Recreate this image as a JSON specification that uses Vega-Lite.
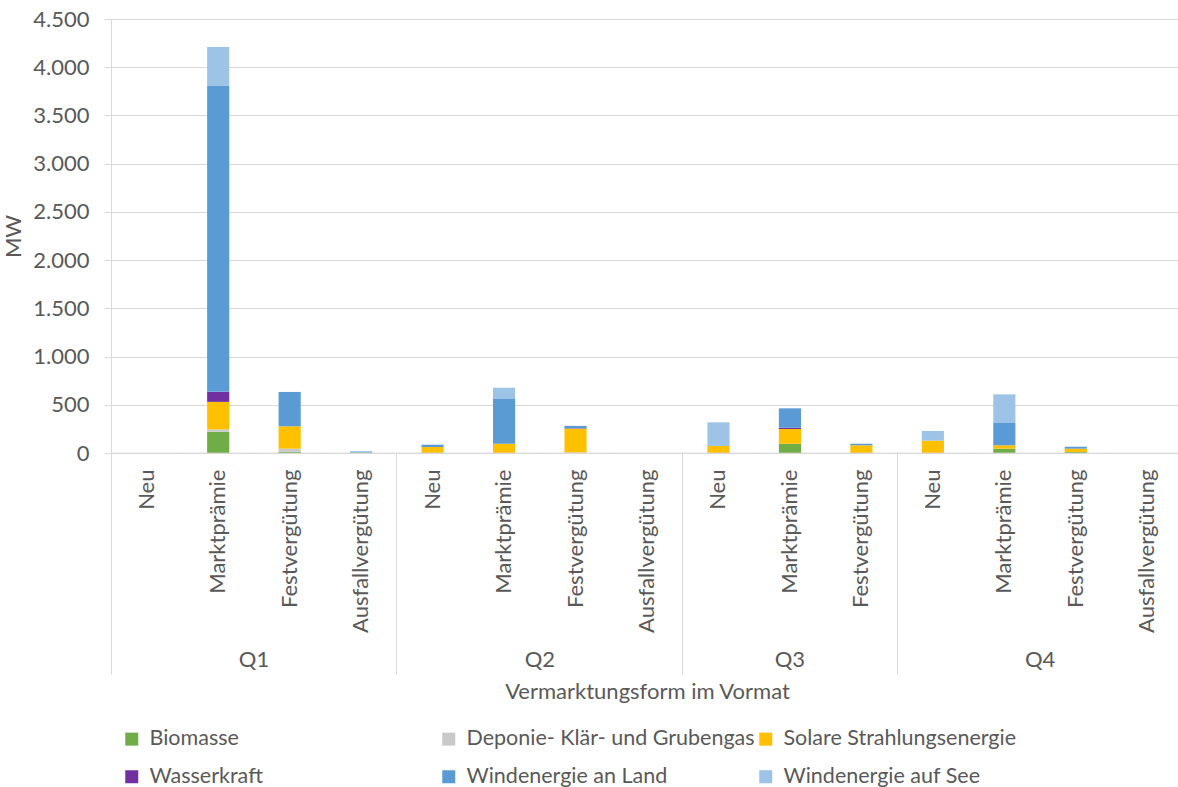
{
  "$schema": "https://vega.github.io/schema/vega-lite/v6.json",
  "width": 1067,
  "height": 434,
  "autosize": {"type": "none"},
  "padding": {"left": 111, "top": 19, "right": 0, "bottom": 334},
  "background": "white",
  "config": {
    "view": {"stroke": null},
    "font": "Lato",
    "axis": {
      "labelFont": "Lato",
      "titleFont": "Lato",
      "labelFontSize": 22,
      "titleFontSize": 22,
      "labelColor": "#595959",
      "titleColor": "#595959",
      "titleFontWeight": "normal"
    }
  },
  "datasets": {
    "zubau": [
      {"quartal": "Q1", "form": "Marktprämie", "quelle": "Biomasse", "mw": 220},
      {"quartal": "Q1", "form": "Marktprämie", "quelle": "Deponie- Klär- und Grubengas", "mw": 25},
      {"quartal": "Q1", "form": "Marktprämie", "quelle": "Solare Strahlungsenergie", "mw": 285},
      {"quartal": "Q1", "form": "Marktprämie", "quelle": "Wasserkraft", "mw": 104},
      {"quartal": "Q1", "form": "Marktprämie", "quelle": "Windenergie an Land", "mw": 3172},
      {"quartal": "Q1", "form": "Marktprämie", "quelle": "Windenergie auf See", "mw": 404},
      {"quartal": "Q1", "form": "Festvergütung", "quelle": "Biomasse", "mw": 12},
      {"quartal": "Q1", "form": "Festvergütung", "quelle": "Deponie- Klär- und Grubengas", "mw": 33},
      {"quartal": "Q1", "form": "Festvergütung", "quelle": "Solare Strahlungsenergie", "mw": 232},
      {"quartal": "Q1", "form": "Festvergütung", "quelle": "Windenergie an Land", "mw": 356},
      {"quartal": "Q1", "form": "Ausfallvergütung", "quelle": "Biomasse", "mw": 6},
      {"quartal": "Q1", "form": "Ausfallvergütung", "quelle": "Windenergie an Land", "mw": 10},
      {"quartal": "Q2", "form": "Neu", "quelle": "Solare Strahlungsenergie", "mw": 62},
      {"quartal": "Q2", "form": "Neu", "quelle": "Windenergie an Land", "mw": 24},
      {"quartal": "Q2", "form": "Marktprämie", "quelle": "Solare Strahlungsenergie", "mw": 96},
      {"quartal": "Q2", "form": "Marktprämie", "quelle": "Windenergie an Land", "mw": 464},
      {"quartal": "Q2", "form": "Marktprämie", "quelle": "Windenergie auf See", "mw": 117},
      {"quartal": "Q2", "form": "Festvergütung", "quelle": "Deponie- Klär- und Grubengas", "mw": 5},
      {"quartal": "Q2", "form": "Festvergütung", "quelle": "Solare Strahlungsenergie", "mw": 247},
      {"quartal": "Q2", "form": "Festvergütung", "quelle": "Wasserkraft", "mw": 4},
      {"quartal": "Q2", "form": "Festvergütung", "quelle": "Windenergie an Land", "mw": 25},
      {"quartal": "Q3", "form": "Neu", "quelle": "Solare Strahlungsenergie", "mw": 73},
      {"quartal": "Q3", "form": "Neu", "quelle": "Windenergie auf See", "mw": 245},
      {"quartal": "Q3", "form": "Marktprämie", "quelle": "Biomasse", "mw": 96},
      {"quartal": "Q3", "form": "Marktprämie", "quelle": "Solare Strahlungsenergie", "mw": 153},
      {"quartal": "Q3", "form": "Marktprämie", "quelle": "Wasserkraft", "mw": 13},
      {"quartal": "Q3", "form": "Marktprämie", "quelle": "Windenergie an Land", "mw": 201},
      {"quartal": "Q3", "form": "Festvergütung", "quelle": "Solare Strahlungsenergie", "mw": 80},
      {"quartal": "Q3", "form": "Festvergütung", "quelle": "Windenergie an Land", "mw": 16},
      {"quartal": "Q4", "form": "Neu", "quelle": "Solare Strahlungsenergie", "mw": 128},
      {"quartal": "Q4", "form": "Neu", "quelle": "Windenergie auf See", "mw": 100},
      {"quartal": "Q4", "form": "Marktprämie", "quelle": "Biomasse", "mw": 45},
      {"quartal": "Q4", "form": "Marktprämie", "quelle": "Solare Strahlungsenergie", "mw": 35},
      {"quartal": "Q4", "form": "Marktprämie", "quelle": "Windenergie an Land", "mw": 231},
      {"quartal": "Q4", "form": "Marktprämie", "quelle": "Windenergie auf See", "mw": 297},
      {"quartal": "Q4", "form": "Festvergütung", "quelle": "Biomasse", "mw": 10},
      {"quartal": "Q4", "form": "Festvergütung", "quelle": "Solare Strahlungsenergie", "mw": 35},
      {"quartal": "Q4", "form": "Festvergütung", "quelle": "Windenergie an Land", "mw": 20}
    ],
    "kategorien": [
      {"quartal": "Q1", "form": "Neu"},
      {"quartal": "Q1", "form": "Marktprämie"},
      {"quartal": "Q1", "form": "Festvergütung"},
      {"quartal": "Q1", "form": "Ausfallvergütung"},
      {"quartal": "Q2", "form": "Neu"},
      {"quartal": "Q2", "form": "Marktprämie"},
      {"quartal": "Q2", "form": "Festvergütung"},
      {"quartal": "Q2", "form": "Ausfallvergütung"},
      {"quartal": "Q3", "form": "Neu"},
      {"quartal": "Q3", "form": "Marktprämie"},
      {"quartal": "Q3", "form": "Festvergütung"},
      {"quartal": "Q4", "form": "Neu"},
      {"quartal": "Q4", "form": "Marktprämie"},
      {"quartal": "Q4", "form": "Festvergütung"},
      {"quartal": "Q4", "form": "Ausfallvergütung"}
    ]
  },
  "layer": [
    {
      "data": {"name": "zubau"},
      "transform": [{"calculate": "datum.quartal + '|' + datum.form", "as": "kategorie"}],
      "mark": {"type": "bar", "width": {"band": 0.31}},
      "encoding": {
        "x": {
          "field": "kategorie",
          "type": "nominal",
          "scale": {
            "domain": [
              "Q1|Neu", "Q1|Marktprämie", "Q1|Festvergütung", "Q1|Ausfallvergütung",
              "Q2|Neu", "Q2|Marktprämie", "Q2|Festvergütung", "Q2|Ausfallvergütung",
              "Q3|Neu", "Q3|Marktprämie", "Q3|Festvergütung",
              "Q4|Neu", "Q4|Marktprämie", "Q4|Festvergütung", "Q4|Ausfallvergütung"
            ],
            "range": [0, 1072],
            "paddingInner": 0,
            "paddingOuter": 0
          },
          "axis": {
            "orient": "bottom",
            "title": "Vermarktungsform im Vormat",
            "titlePadding": 28,
            "bandPosition": 0,
            "domainColor": "#d9d9d9",
            "ticks": true,
            "tickSize": 221,
            "tickColor": "#d9d9d9",
            "tickOpacity": {
              "condition": {"test": "indexof(['Q1|Neu', 'Q2|Neu', 'Q3|Neu', 'Q4|Neu'], datum.value) >= 0", "value": 1},
              "value": 0
            },
            "labelExpr": "split(datum.value, '|')[1]",
            "labelAngle": -90,
            "labelPadding": -205,
            "labelOverlap": false,
            "grid": false
          }
        },
        "y": {
          "field": "mw",
          "type": "quantitative",
          "scale": {"domain": [0, 4500], "nice": false},
          "axis": {
            "title": "MW",
            "titlePadding": 7,
            "values": [0, 500, 1000, 1500, 2000, 2500, 3000, 3500, 4000, 4500],
            "labelExpr": "replace(format(datum.value, ','), ',', '.')",
            "domainColor": "#d9d9d9",
            "tickColor": "#d9d9d9",
            "tickSize": 7,
            "gridColor": "#d9d9d9",
            "labelPadding": 15
          }
        },
        "color": {
          "field": "quelle",
          "type": "nominal",
          "scale": {
            "domain": [
              "Biomasse",
              "Deponie- Klär- und Grubengas",
              "Solare Strahlungsenergie",
              "Wasserkraft",
              "Windenergie an Land",
              "Windenergie auf See"
            ],
            "range": ["#70ad47", "#c9c9c9", "#ffc000", "#7030a0", "#5b9bd5", "#9dc3e6"]
          },
          "legend": {
            "title": null,
            "orient": "none",
            "legendX": 10,
            "legendY": 709,
            "direction": "horizontal",
            "columns": 3,
            "gridAlign": "all",
            "columnPadding": -9,
            "rowPadding": 15,
            "padding": 0,
            "symbolType": "square",
            "symbolSize": 169,
            "symbolStrokeWidth": 0,
            "symbolOpacity": 1,
            "labelFont": "Lato",
            "labelFontSize": 21.5,
            "labelColor": "#595959",
            "labelOffset": 7,
            "labelLimit": 400
          }
        },
        "order": {"field": "quelle", "sort": "ascending"}
      }
    },
    {
      "data": {"name": "kategorien"},
      "transform": [{"calculate": "datum.quartal + '|' + datum.form", "as": "kategorie"}],
      "mark": {"type": "tick", "orient": "horizontal", "size": 72, "thickness": 1, "color": "#d9d9d9"},
      "encoding": {
        "x": {
          "field": "kategorie",
          "type": "nominal",
          "axis": {
            "orient": "bottom",
            "title": null,
            "values": ["Q1|Festvergütung", "Q2|Festvergütung", "Q3|Marktprämie", "Q4|Festvergütung"],
            "domain": false,
            "ticks": false,
            "tickSize": 0,
            "grid": false,
            "labelExpr": "split(datum.value, '|')[0]",
            "labelAngle": 0,
            "labelAlign": "center",
            "labelBaseline": "top",
            "labelOffset": {
              "condition": {"test": "datum.value === 'Q3|Marktprämie'", "value": 0},
              "value": -35.7
            },
            "labelPadding": 196,
            "labelOverlap": false
          }
        },
        "y": {"datum": 0}
      }
    }
  ],
  "resolve": {"axis": {"x": "independent"}}
}
